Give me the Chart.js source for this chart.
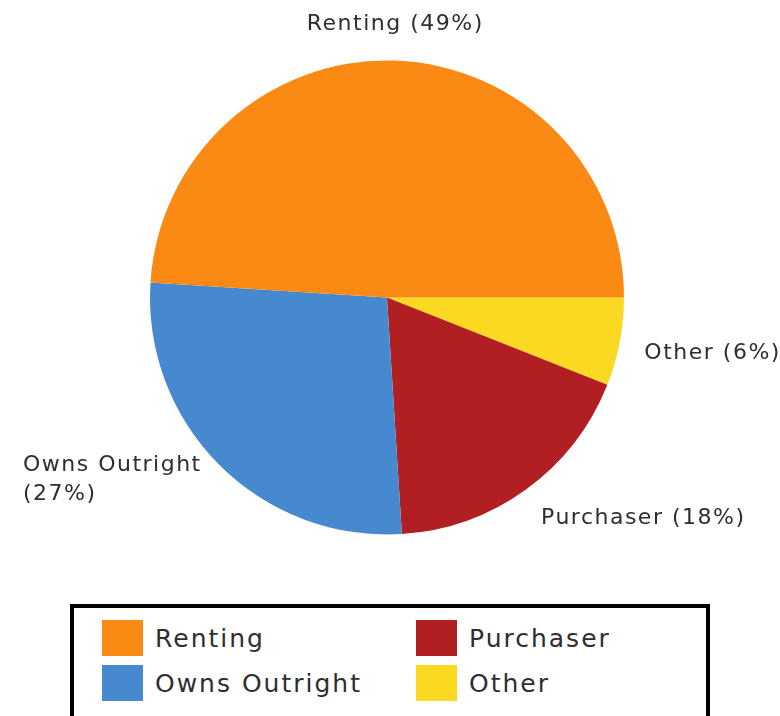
<!DOCTYPE html>
<html>
<head>
<meta charset="utf-8">
<script src="https://cdn.jsdelivr.net/npm/chart.js@4.4.0/dist/chart.umd.min.js"></script>
<style>
    body { margin: 0; background: #fff; font-family: 'DejaVu Sans', sans-serif; }
    .wrap { position: relative; width: 780px; height: 716px; overflow: hidden; }
    #chartBox { position: absolute; left: 0; top: 0; width: 780px; height: 590px; }
    .leyenda {
        position: absolute; left: 70px; top: 604px; width: 640px; height: 130px;
        border: 4px solid #000; box-sizing: border-box;
    }
    .leyenda .item { position: absolute; display: flex; align-items: center; color: #2e2e2e;
        font-size: 25px; letter-spacing: 2px; }
    .leyenda .sw { width: 41px; height: 36px; margin-right: 12px; }
</style>
</head>
<body>
<div class="wrap">
    <div id="chartBox"><canvas id="tenureChart"></canvas></div>
    <div class="leyenda" id="leyenda"></div>
</div>
<script>
// Datos del gráfico (orden de la leyenda)
const categorias = ['Renting', 'Owns Outright', 'Purchaser', 'Other'];
const porcentajes = [49, 27, 18, 6];
const colores = ['#FB8A14', '#4689CF', '#B11F22', '#FBD923'];

// Chart.js dibuja en sentido horario; el original va antihorario desde las 3 en punto
const ordenPie = [3, 2, 1, 0];

// Etiquetas fuera del pastel
const etiquetasExternas = {
    id: 'etiquetasExternas',
    afterDatasetsDraw(chart) {
        const ctx = chart.ctx;
        const meta = chart.getDatasetMeta(0);
        ctx.save();
        ctx.font = "22px 'DejaVu Sans'";
        ctx.fillStyle = '#2e2e2e';
        ctx.textBaseline = 'middle';
        ctx.letterSpacing = '1.5px';
        meta.data.forEach((arc, i) => {
            const p = arc.getProps(['x', 'y', 'startAngle', 'endAngle', 'outerRadius'], true);
            const ang = (p.startAngle + p.endAngle) / 2;
            const d = p.outerRadius + 25;
            const ax = p.x + Math.cos(ang) * d;
            let ay = p.y + Math.sin(ang) * d;
            const idx = ordenPie[i];
            let texto = categorias[idx] + ' (' + porcentajes[idx] + '%)';
            let lineas = [texto];
            const c = Math.cos(ang);
            if (c < -0.3 && ax - ctx.measureText(texto).width < 8) {
                lineas = [categorias[idx], '(' + porcentajes[idx] + '%)'];
            }
            // pequeño ajuste vertical
            if (lineas.length === 1) ay += 11 * Math.sin(ang) + (Math.abs(Math.sin(ang)) < 0.4 ? 5 : 0);
            else ay -= 3;
            const ancho = Math.max(...lineas.map(l => ctx.measureText(l).width));
            const alto = 29;
            let x0;
            if (c > 0.3) x0 = ax;
            else if (c < -0.3) x0 = ax - ancho;
            else x0 = ax - ancho / 2;
            ctx.textAlign = 'left';
            lineas.forEach((l, k) => {
                const y = ay - (lineas.length - 1) * alto / 2 + k * alto;
                const lx = (c >= -0.3 && c <= 0.3) ? ax - ctx.measureText(l).width / 2 : x0;
                ctx.fillText(l, lx, y);
            });
        });
        ctx.restore();
    }
};

function crearGraficaTenencia() {
    const ctx = document.getElementById('tenureChart');
    new Chart(ctx, {
        type: 'pie',
        data: {
            labels: ordenPie.map(i => categorias[i]),
            datasets: [{
                data: ordenPie.map(i => porcentajes[i]),
                backgroundColor: ordenPie.map(i => colores[i]),
                borderWidth: 0
            }]
        },
        options: {
            responsive: true,
            maintainAspectRatio: false,
            animation: false,
            rotation: 90,
            layout: { padding: { top: 60, bottom: 55, left: 150, right: 156 } },
            plugins: {
                legend: { display: false },
                tooltip: { enabled: false }
            }
        },
        plugins: [etiquetasExternas]
    });
}

// Leyenda en HTML con recuadro negro (dos columnas)
function crearLeyenda() {
    const cont = document.getElementById('leyenda');
    const posiciones = [[28, 12], [28, 57], [342, 12], [342, 57]];
    categorias.forEach((cat, i) => {
        const item = document.createElement('div');
        item.className = 'item';
        item.style.left = posiciones[i][0] + 'px';
        item.style.top = posiciones[i][1] + 'px';
        item.innerHTML = '<span class="sw" style="background:' + colores[i] + '"></span>' + cat;
        cont.appendChild(item);
    });
}

crearGraficaTenencia();
crearLeyenda();
</script>
</body>
</html>
